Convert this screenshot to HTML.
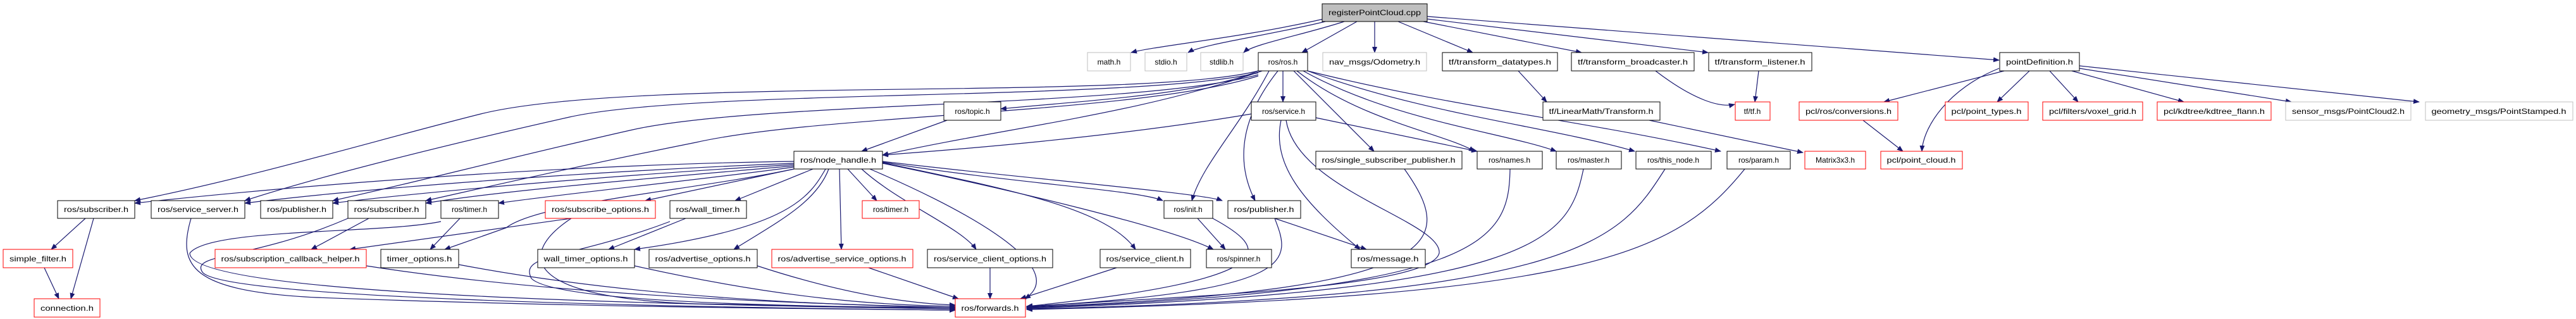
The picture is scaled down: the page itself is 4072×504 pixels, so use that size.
<!DOCTYPE html>
<html><head><meta charset="utf-8"><style>
html,body{margin:0;padding:0;background:#fff;}
svg{display:block;}
text{font-family:"Liberation Sans",sans-serif;font-size:12px;fill:#000;text-anchor:middle;}
.e{fill:none;stroke:#191970;stroke-width:1.2;marker-end:url(#a);}
.n{fill:#fff;stroke:#000;stroke-width:1;}
.r{fill:#fff;stroke:#ff0000;stroke-width:1;}
.g{fill:#fff;stroke:#bfbfbf;stroke-width:1;}
</style></head><body>
<svg width="4072" height="504" viewBox="0 0 4072 504" xmlns="http://www.w3.org/2000/svg">
<defs><marker id="a" markerWidth="10" markerHeight="8" refX="9" refY="4" orient="auto" markerUnits="userSpaceOnUse"><path d="M0,0 L10,4 L0,8 z" fill="#191970"/></marker></defs>

<!-- edges from root -->
<path class="e" d="M2092,30 C1960,60 1830,72 1788,83"/>
<path class="e" d="M2095,34 C2010,55 1900,70 1878,83"/>
<path class="e" d="M2125,34 C2060,55 1980,70 1966,83"/>
<path class="e" d="M2145,34 L2058,83"/>
<path class="e" d="M2173,34 L2173,83"/>
<path class="e" d="M2210,34 L2328,83"/>
<path class="e" d="M2250,34 L2500,83"/>
<path class="e" d="M2256,30 L2700,83"/>
<path class="e" d="M2256,26 L3160,95"/>

<!-- ros.h -->
<path class="e" d="M1989,112 C1900,150 1700,160 1582,172"/>
<path class="e" d="M2028,112 L2028,161"/>
<path class="e" d="M1995,112 C1800,180 1600,200 1395,245"/>
<path class="e" d="M1989,112 C1800,160 1000,120 760,180 C600,220 400,280 213,317"/>
<path class="e" d="M1989,115 C1800,160 1100,140 900,185 C700,230 500,280 387,317"/>
<path class="e" d="M1989,118 C1800,170 1200,160 1000,205 C800,250 650,290 526,317"/>
<path class="e" d="M1989,120 C1800,180 1300,180 1100,225 C900,265 750,300 673,317"/>
<path class="e" d="M2006,112 C1960,200 1900,260 1884,317"/>
<path class="e" d="M2020,112 C1950,200 1960,270 1984,317"/>
<path class="e" d="M2045,112 L2172,239"/>
<path class="e" d="M2050,112 C2150,190 2280,210 2331,239"/>
<path class="e" d="M2060,112 C2200,190 2380,210 2460,239"/>
<path class="e" d="M2067,112 C2250,180 2450,200 2584,239"/>
<path class="e" d="M2067,112 C2300,170 2500,190 2720,239"/>

<!-- topic, service -->
<path class="e" d="M1497,190 L1362,239"/>
<path class="e" d="M1978,180 C1800,210 1600,230 1395,245"/>
<path class="e" d="M2080,186 L2335,239"/>
<path class="e" d="M2025,190 C2010,260 2060,320 2150,394"/>
<path class="e" d="M2033,190 C2050,300 2280,350 2275,400 C2260,460 1800,470 1623,485"/>

<!-- node_handle -->
<path class="e" d="M1255,255 C900,260 500,290 213,321"/>
<path class="e" d="M1255,258 C950,270 600,295 387,321"/>
<path class="e" d="M1255,260 C1000,275 700,300 526,321"/>
<path class="e" d="M1255,262 C1050,280 800,300 673,321"/>
<path class="e" d="M1255,264 C1100,285 900,305 788,321"/>
<path class="e" d="M1255,267 L1020,317"/>
<path class="e" d="M1285,267 L1162,317"/>
<path class="e" d="M1255,267 C1100,300 850,320 800,360 L703,394"/>
<path class="e" d="M1305,267 C1280,310 1250,360 1003,394"/>
<path class="e" d="M1310,267 C1290,320 1230,350 1160,394"/>
<path class="e" d="M1327,267 L1330,394"/>
<path class="e" d="M1340,267 L1386,317"/>
<path class="e" d="M1362,267 C1420,320 1520,360 1543,394"/>
<path class="e" d="M1395,257 C1600,300 1750,330 1795,394"/>
<path class="e" d="M1395,258 C1600,300 1850,360 1918,394"/>
<path class="e" d="M1395,256 C1600,290 1800,300 1838,317"/>
<path class="e" d="M1395,255 C1600,280 1900,305 1932,317"/>
<path class="e" d="M1375,267 C1500,320 1700,420 1620,472"/>

<!-- row5 -->
<path class="e" d="M135,345 L81,394"/>
<path class="e" d="M148,345 L112,472"/>
<path class="e" d="M70,423 L93,472"/>
<path class="e" d="M302,345 C280,420 300,460 500,470 C900,485 1300,488 1510,490"/>
<path class="e" d="M550,345 C400,410 300,400 320,430 C350,470 1000,485 1510,490"/>
<path class="e" d="M583,345 L492,394"/>
<path class="e" d="M697,350 C600,370 330,360 300,400 C300,460 900,480 1510,488"/>
<path class="e" d="M727,345 L680,394"/>
<path class="e" d="M903,345 L553,394"/>
<path class="e" d="M903,345 C820,400 820,470 1100,480 C1300,485 1450,487 1510,488"/>
<path class="e" d="M1084,345 L962,394"/>
<path class="e" d="M1059,350 C900,410 820,400 840,440 C880,480 1300,485 1510,486"/>
<path class="e" d="M1893,345 L1937,394"/>
<path class="e" d="M1917,345 C2000,390 2050,440 1623,484"/>
<path class="e" d="M2015,345 L2160,394"/>
<path class="e" d="M2015,345 C2040,410 2060,460 1623,484"/>

<!-- row6 -> forwards -->
<path class="e" d="M579,420 C900,470 1300,480 1510,486"/>
<path class="e" d="M725,418 C1000,470 1300,482 1510,486"/>
<path class="e" d="M1003,420 C1250,475 1400,482 1510,484"/>
<path class="e" d="M1197,420 C1350,470 1450,480 1510,482"/>
<path class="e" d="M1373,423 L1515,472"/>
<path class="e" d="M1565,423 L1565,472"/>
<path class="e" d="M1765,423 L1613,472"/>

<!-- row4 -> forwards -->
<path class="e" d="M2220,267 C2300,380 2300,460 1623,485"/>
<path class="e" d="M2387,267 C2385,380 2350,460 1623,486"/>
<path class="e" d="M2503,267 C2480,380 2430,460 1623,487"/>
<path class="e" d="M2632,267 C2560,380 2500,470 1623,488"/>
<path class="e" d="M2758,267 C2650,400 2520,470 1623,489"/>

<!-- tf -->
<path class="e" d="M2400,112 L2445,161"/>
<path class="e" d="M2607,190 L2850,241"/>
<path class="e" d="M2617,112 C2680,160 2720,170 2742,165"/>
<path class="e" d="M2780,112 L2774,161"/>

<!-- pointDefinition -->
<path class="e" d="M3168,112 L2978,161"/>
<path class="e" d="M3208,112 L3157,161"/>
<path class="e" d="M3240,112 L3285,161"/>
<path class="e" d="M3275,112 L3452,161"/>
<path class="e" d="M3287,108 L3622,161"/>
<path class="e" d="M3287,104 L3824,161"/>
<path class="e" d="M3160,108 C3080,140 3040,200 3038,239"/>
<path class="e" d="M2945,190 L3008,239"/>

<!-- nodes -->
<rect x="2090" y="6" width="166" height="28" fill="#bfbfbf" stroke="#000"/><text x="2173" y="24" textLength="146" lengthAdjust="spacingAndGlyphs">registerPointCloud.cpp</text>

<rect class="g" x="1719" y="83" width="68" height="29"/><text x="1753" y="102">math.h</text>
<rect class="g" x="1810" y="83" width="66" height="29"/><text x="1843" y="102">stdio.h</text>
<rect class="g" x="1898" y="83" width="67" height="29"/><text x="1931" y="102">stdlib.h</text>
<rect class="n" x="1989" y="83" width="78" height="29"/><text x="2028" y="102">ros/ros.h</text>
<rect class="g" x="2091" y="83" width="164" height="29"/><text x="2173" y="102" textLength="144" lengthAdjust="spacingAndGlyphs">nav_msgs/Odometry.h</text>
<rect class="n" x="2280" y="83" width="182" height="29"/><text x="2371" y="102" textLength="162" lengthAdjust="spacingAndGlyphs">tf/transform_datatypes.h</text>
<rect class="n" x="2484" y="83" width="194" height="29"/><text x="2581" y="102" textLength="174" lengthAdjust="spacingAndGlyphs">tf/transform_broadcaster.h</text>
<rect class="n" x="2701" y="83" width="163" height="29"/><text x="2782" y="102" textLength="143" lengthAdjust="spacingAndGlyphs">tf/transform_listener.h</text>
<rect class="n" x="3161" y="83" width="126" height="29"/><text x="3224" y="102" textLength="106" lengthAdjust="spacingAndGlyphs">pointDefinition.h</text>

<rect class="n" x="1492" y="161" width="90" height="29"/><text x="1537" y="180">ros/topic.h</text>
<rect class="n" x="1978" y="161" width="102" height="29"/><text x="2029" y="180">ros/service.h</text>
<rect class="n" x="2439" y="161" width="185" height="29"/><text x="2531" y="180" textLength="165" lengthAdjust="spacingAndGlyphs">tf/LinearMath/Transform.h</text>
<rect class="r" x="2743" y="161" width="55" height="29"/><text x="2770" y="180">tf/tf.h</text>
<rect class="r" x="2844" y="161" width="156" height="29"/><text x="2922" y="180" textLength="136" lengthAdjust="spacingAndGlyphs">pcl/ros/conversions.h</text>
<rect class="r" x="3075" y="161" width="131" height="29"/><text x="3140" y="180" textLength="111" lengthAdjust="spacingAndGlyphs">pcl/point_types.h</text>
<rect class="r" x="3229" y="161" width="158" height="29"/><text x="3308" y="180" textLength="138" lengthAdjust="spacingAndGlyphs">pcl/filters/voxel_grid.h</text>
<rect class="r" x="3410" y="161" width="180" height="29"/><text x="3500" y="180" textLength="160" lengthAdjust="spacingAndGlyphs">pcl/kdtree/kdtree_flann.h</text>
<rect class="g" x="3613" y="161" width="198" height="29"/><text x="3712" y="180" textLength="178" lengthAdjust="spacingAndGlyphs">sensor_msgs/PointCloud2.h</text>
<rect class="g" x="3834" y="161" width="233" height="29"/><text x="3950" y="180" textLength="213" lengthAdjust="spacingAndGlyphs">geometry_msgs/PointStamped.h</text>

<rect class="n" x="1255" y="239" width="140" height="28"/><text x="1325" y="257" textLength="120" lengthAdjust="spacingAndGlyphs">ros/node_handle.h</text>
<rect class="n" x="2080" y="239" width="231" height="28"/><text x="2195" y="257" textLength="211" lengthAdjust="spacingAndGlyphs">ros/single_subscriber_publisher.h</text>
<rect class="n" x="2335" y="239" width="103" height="28"/><text x="2386" y="257">ros/names.h</text>
<rect class="n" x="2460" y="239" width="103" height="28"/><text x="2511" y="257">ros/master.h</text>
<rect class="n" x="2586" y="239" width="119" height="28"/><text x="2645" y="257">ros/this_node.h</text>
<rect class="n" x="2730" y="239" width="100" height="28"/><text x="2780" y="257">ros/param.h</text>
<rect class="r" x="2853" y="239" width="96" height="28"/><text x="2901" y="257">Matrix3x3.h</text>
<rect class="r" x="2973" y="239" width="129" height="28"/><text x="3037" y="257" textLength="109" lengthAdjust="spacingAndGlyphs">pcl/point_cloud.h</text>

<rect class="n" x="91" y="317" width="122" height="28"/><text x="152" y="335" textLength="102" lengthAdjust="spacingAndGlyphs">ros/subscriber.h</text>
<rect class="n" x="239" y="317" width="148" height="28"/><text x="313" y="335" textLength="128" lengthAdjust="spacingAndGlyphs">ros/service_server.h</text>
<rect class="n" x="412" y="317" width="114" height="28"/><text x="469" y="335" textLength="94" lengthAdjust="spacingAndGlyphs">ros/publisher.h</text>
<rect class="n" x="550" y="317" width="123" height="28"/><text x="611" y="335" textLength="103" lengthAdjust="spacingAndGlyphs">ros/subscriber.h</text>
<rect class="n" x="697" y="317" width="91" height="28"/><text x="742" y="335">ros/timer.h</text>
<rect class="r" x="862" y="317" width="174" height="28"/><text x="949" y="335" textLength="154" lengthAdjust="spacingAndGlyphs">ros/subscribe_options.h</text>
<rect class="n" x="1059" y="317" width="121" height="28"/><text x="1119" y="335" textLength="101" lengthAdjust="spacingAndGlyphs">ros/wall_timer.h</text>
<rect class="r" x="1363" y="317" width="90" height="28"/><text x="1408" y="335">ros/timer.h</text>
<rect class="n" x="1840" y="317" width="77" height="28"/><text x="1878" y="335">ros/init.h</text>
<rect class="n" x="1941" y="317" width="115" height="28"/><text x="1998" y="335" textLength="95" lengthAdjust="spacingAndGlyphs">ros/publisher.h</text>

<rect class="r" x="5" y="394" width="110" height="29"/><text x="60" y="413" textLength="90" lengthAdjust="spacingAndGlyphs">simple_filter.h</text>
<rect class="r" x="340" y="394" width="239" height="29"/><text x="459" y="413" textLength="219" lengthAdjust="spacingAndGlyphs">ros/subscription_callback_helper.h</text>
<rect class="n" x="602" y="394" width="123" height="29"/><text x="663" y="413" textLength="103" lengthAdjust="spacingAndGlyphs">timer_options.h</text>
<rect class="n" x="850" y="394" width="153" height="29"/><text x="926" y="413" textLength="133" lengthAdjust="spacingAndGlyphs">wall_timer_options.h</text>
<rect class="n" x="1026" y="394" width="171" height="29"/><text x="1111" y="413" textLength="151" lengthAdjust="spacingAndGlyphs">ros/advertise_options.h</text>
<rect class="r" x="1220" y="394" width="223" height="29"/><text x="1331" y="413" textLength="203" lengthAdjust="spacingAndGlyphs">ros/advertise_service_options.h</text>
<rect class="n" x="1466" y="394" width="198" height="29"/><text x="1565" y="413" textLength="178" lengthAdjust="spacingAndGlyphs">ros/service_client_options.h</text>
<rect class="n" x="1739" y="394" width="143" height="29"/><text x="1810" y="413" textLength="123" lengthAdjust="spacingAndGlyphs">ros/service_client.h</text>
<rect class="n" x="1907" y="394" width="103" height="29"/><text x="1958" y="413">ros/spinner.h</text>
<rect class="n" x="2136" y="394" width="117" height="29"/><text x="2194" y="413" textLength="97" lengthAdjust="spacingAndGlyphs">ros/message.h</text>

<rect class="r" x="54" y="472" width="104" height="29"/><text x="106" y="491" textLength="84" lengthAdjust="spacingAndGlyphs">connection.h</text>
<rect class="r" x="1510" y="472" width="111" height="29"/><text x="1565" y="491" textLength="91" lengthAdjust="spacingAndGlyphs">ros/forwards.h</text>
</svg>
</body></html>
